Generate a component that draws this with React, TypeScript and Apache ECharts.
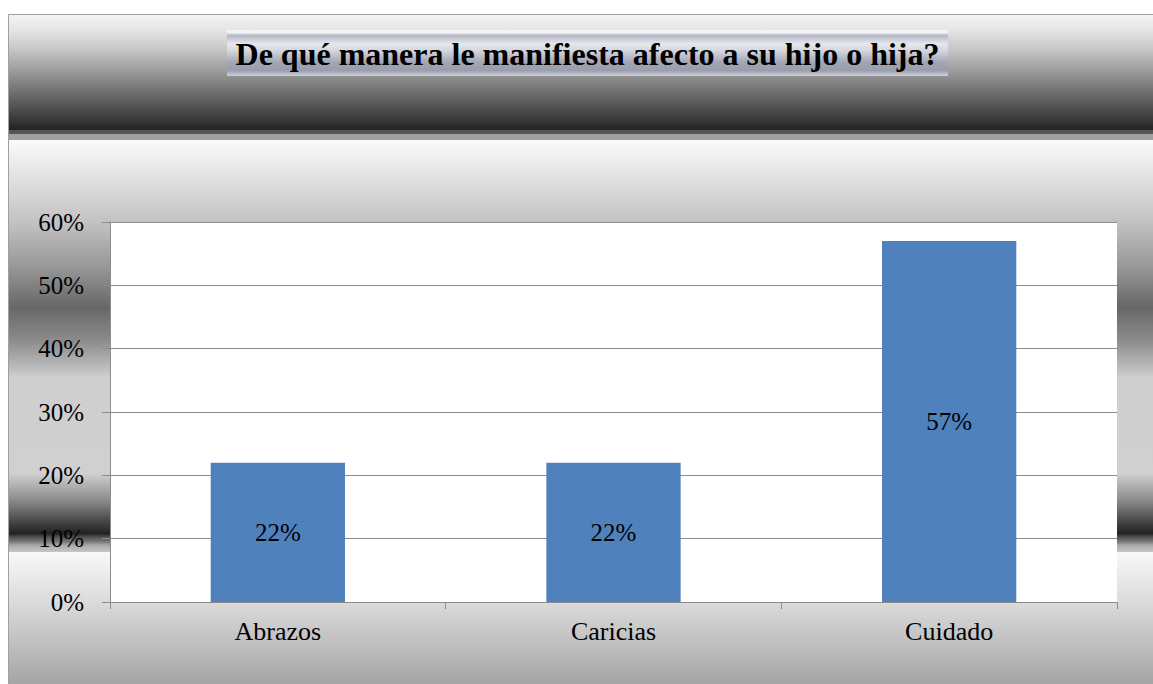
import React, { useEffect, useRef } from "react";
import * as echarts from "echarts";

const categories = ["Abrazos", "Caricias", "Cuidado"];
const values = [22, 22, 57];
const yTicks = [0, 10, 20, 30, 40, 50, 60];
const titleText = "De qué manera le manifiesta afecto a su hijo o hija?";

const W = 1153;
const H = 684;

function bgStops() {
  const top = 14;
  const h = H - top;
  const s: [number, string][] = [
    [14, "#f4f4f4"],
    [30, "#e4e4e4"],
    [50, "#c4c4c4"],
    [70, "#9c9c9c"],
    [88, "#777777"],
    [105, "#555555"],
    [122, "#333333"],
    [129, "#222222"],
    [129.6, "#555555"],
    [133, "#555555"],
    [133.6, "#a0a0a0"],
    [139, "#a0a0a0"],
    [139.6, "#fafafa"],
    [180, "#e0e0e0"],
    [222, "#c2c2c2"],
    [265, "#999999"],
    [307, "#676767"],
    [340, "#8c8c8c"],
    [365, "#b8b8b8"],
    [377, "#cfcfcf"],
    [473, "#d0d0d0"],
    [500, "#8a8a8a"],
    [520, "#4a4a4a"],
    [533, "#222222"],
    [537, "#555555"],
    [541, "#777777"],
    [545, "#aaaaaa"],
    [551, "#c4c4c4"],
    [552, "#f8f8f8"],
    [600, "#dcdcdc"],
    [684, "#a4a4a4"],
  ];
  return s.map(([y, c]) => ({ offset: Math.min(1, Math.max(0, (y - top) / h)), color: c }));
}

export default function App() {
  const ref = useRef<HTMLDivElement>(null);
  useEffect(() => {
    if (!ref.current) return;
    const chart = echarts.init(ref.current, undefined, { renderer: "svg" });
    const font = "'Liberation Serif', 'Times New Roman', serif";
    chart.setOption({
      animation: false,
      backgroundColor: "#ffffff",
      graphic: [
        {
          type: "rect",
          z: -100,
          shape: { x: 8.5, y: 14.5, width: W - 8, height: H - 14 },
          style: {
            fill: new echarts.graphic.LinearGradient(0, 0, 0, 1, bgStops()),
            stroke: "#a0a0a0",
            lineWidth: 1,
          },
        },
        {
          type: "rect",
          z: 10,
          shape: { x: 227, y: 30, width: 721, height: 46 },
          style: {
            fill: new echarts.graphic.LinearGradient(0, 0, 0, 1, [
              { offset: 0, color: "#f6f6f8" },
              { offset: 0.06, color: "#f0f0f2" },
              { offset: 0.12, color: "#b4b8c4" },
              { offset: 0.3, color: "#e6e8ee" },
              { offset: 0.45, color: "#d4d6de" },
              { offset: 0.7, color: "#a2a6b4" },
              { offset: 0.88, color: "#9a9eac" },
              { offset: 1, color: "#cfd2da" },
            ]),
          },
        },
        {
          type: "text",
          z: 11,
          x: 587.5,
          y: 54,
          style: {
            text: titleText,
            fill: "#000000",
            font: `bold 32px ${font}`,
            align: "center",
            verticalAlign: "middle",
          },
        },
      ],
      grid: {
        left: 110,
        right: W - 1117,
        top: 222,
        bottom: H - 602,
        show: true,
        backgroundColor: "#ffffff",
        borderWidth: 0,
      },
      xAxis: {
        type: "category",
        data: categories,
        axisLine: { show: true, lineStyle: { color: "#8c8c8c", width: 1 } },
        axisTick: { show: true, length: 7, lineStyle: { color: "#8c8c8c" } },
        axisLabel: {
          color: "#000000",
          fontFamily: font,
          fontSize: 26,
          margin: 16,
        },
      },
      yAxis: {
        type: "value",
        min: 0,
        max: 60,
        interval: 10,
        axisLine: { show: true, lineStyle: { color: "#8c8c8c", width: 1 } },
        axisTick: { show: true, length: 8, lineStyle: { color: "#8c8c8c" } },
        splitLine: { show: true, lineStyle: { color: "#8c8c8c", width: 1 } },
        axisLabel: {
          color: "#000000",
          fontFamily: font,
          fontSize: 25,
          margin: 26,
          formatter: (v: number) => (yTicks.includes(v) ? `${v}%` : ""),
        },
      },
      series: [
        {
          type: "bar",
          data: values,
          barWidth: "40%",
          itemStyle: { color: "#4f81bd" },
          label: {
            show: true,
            position: "inside",
            formatter: "{c}%",
            color: "#000000",
            fontFamily: font,
            fontSize: 25,
          },
        },
      ],
    });
    return () => chart.dispose();
  }, []);
  return (
    <div
      ref={ref}
      style={{ position: "absolute", left: 0, top: 0, width: W, height: H }}
    />
  );
}
